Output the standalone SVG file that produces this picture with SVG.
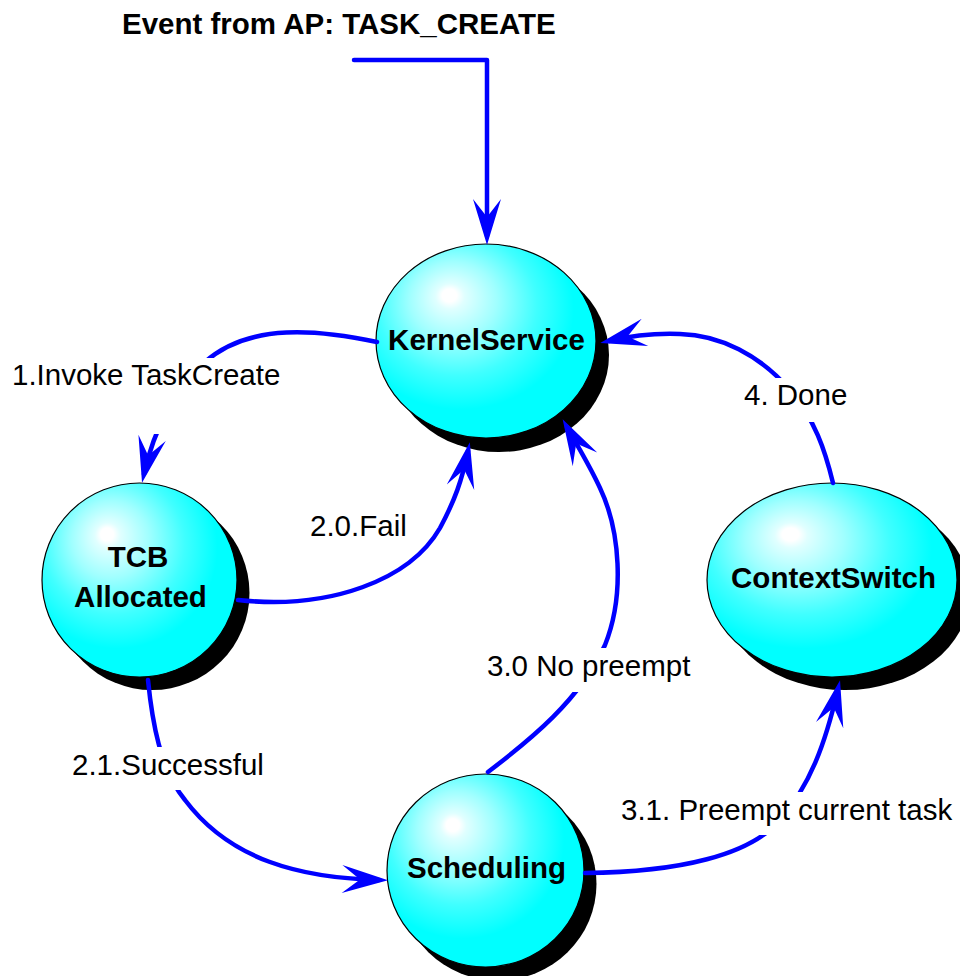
<svg xmlns="http://www.w3.org/2000/svg" width="960" height="976" viewBox="0 0 960 976">
<style>
  .shadow { fill: #000000; }
  .ball { fill: url(#ballGrad); stroke: #000000; stroke-width: 1.2; }
  .ntext { font-family: "Liberation Sans", Arial, sans-serif; font-weight: bold; font-size: 29.5px; fill: #000000; text-anchor: middle; }
  .conn { fill: none; stroke: #0000FF; stroke-width: 4.5; stroke-linecap: round; stroke-linejoin: round; marker-end: url(#arr); }
  .ltext { font-family: "Liberation Sans", Arial, sans-serif; font-size: 29.5px; fill: #000000; }
  .lbg { fill: #FFFFFF; }
  .title { font-family: "Liberation Sans", Arial, sans-serif; font-weight: bold; font-size: 29.5px; fill: #000000; }
</style>
<defs>
  <radialGradient id="ballGrad" cx="0.4" cy="0.36" r="0.66" fx="0.33" fy="0.26">
    <stop offset="0" stop-color="#FFFFFF"/>
    <stop offset="0.05" stop-color="#FFFFFF"/>
    <stop offset="0.1" stop-color="#E0FFFF"/>
    <stop offset="0.3" stop-color="#A0FFFF"/>
    <stop offset="0.55" stop-color="#40FFFF"/>
    <stop offset="0.78" stop-color="#00FFFF"/>
    <stop offset="1" stop-color="#00FFFF"/>
  </radialGradient>
  <marker id="arr" viewBox="-48 -16 50 32" refX="-9" refY="0" markerWidth="50" markerHeight="32" markerUnits="userSpaceOnUse" orient="auto">
    <path d="M0,0 L-46,-14 L-28,0 L-46,14 Z" fill="#0000FF"/>
  </marker>
</defs>

<rect x="0" y="0" width="960" height="976" fill="#FFFFFF"/>

<text class="title" x="122" y="34">Event from AP: TASK_CREATE</text>

<g id="node-kernelservice">
  <ellipse class="shadow" cx="499" cy="355" rx="110" ry="97"/>
  <ellipse class="ball" cx="486" cy="341" rx="110" ry="97"/>
  <text class="ntext" x="486.5" y="350">KernelService</text>
</g>

<g id="node-tcb">
  <ellipse class="shadow" cx="152" cy="593" rx="97.5" ry="97"/>
  <ellipse class="ball" cx="139.5" cy="580" rx="97.5" ry="97"/>
  <text class="ntext" x="138" y="567">TCB</text>
  <text class="ntext" x="140.5" y="607">Allocated</text>
</g>

<g id="node-contextswitch">
  <ellipse class="shadow" cx="845" cy="593" rx="125" ry="97"/>
  <ellipse class="ball" cx="832" cy="580" rx="125" ry="97"/>
  <text class="ntext" x="833.5" y="588">ContextSwitch</text>
</g>

<g id="node-scheduling">
  <ellipse class="shadow" cx="498" cy="884" rx="98.5" ry="96.5"/>
  <ellipse class="ball" cx="485.5" cy="870.5" rx="98.5" ry="96.5"/>
  <text class="ntext" x="486.5" y="878">Scheduling</text>
</g>

<g id="connectors">
  <path class="conn" d="M354,60 L487,60 L487,236"/>
  <path class="conn" d="M377,342 C320,330 250,322 205,362 C175,390 155,425 144,474"/>
  <path class="conn" d="M238,600 C330,610 410,580 440,528 C455,500 462,480 468,451"/>
  <path class="conn" d="M148,680 C152,720 160,770 185,800 C230,860 300,878 379,880"/>
  <path class="conn" d="M488,772 C530,740 580,700 605,645 C625,595 620,530 600,488 C590,466 577,445 567,427"/>
  <path class="conn" d="M585,873 C680,872 750,855 780,820 C810,785 825,745 838,689"/>
  <path class="conn" d="M833,483 C825,450 815,420 790,390 C760,355 720,335 680,334 C655,333 630,336 609,341"/>
</g>

<g id="labels">
  <g id="label-invoke">
    <rect class="lbg" x="8" y="358" width="282" height="76"/>
    <text class="ltext" x="12" y="385">1.Invoke TaskCreate</text>
  </g>
  <g id="label-fail">
    <text class="ltext" x="310" y="536">2.0.Fail</text>
  </g>
  <g id="label-success">
    <rect class="lbg" x="68" y="747" width="200" height="43"/>
    <text class="ltext" x="72" y="775">2.1.Successful</text>
  </g>
  <g id="label-nopreempt">
    <rect class="lbg" x="483" y="648" width="212" height="44"/>
    <text class="ltext" x="487" y="676">3.0 No preempt</text>
  </g>
  <g id="label-preempt">
    <rect class="lbg" x="617" y="792" width="343" height="43"/>
    <text class="ltext" x="621" y="820">3.1. Preempt current task</text>
  </g>
  <g id="label-done">
    <rect class="lbg" x="740" y="378" width="112" height="44"/>
    <text class="ltext" x="744" y="405">4. Done</text>
  </g>
</g>
</svg>
